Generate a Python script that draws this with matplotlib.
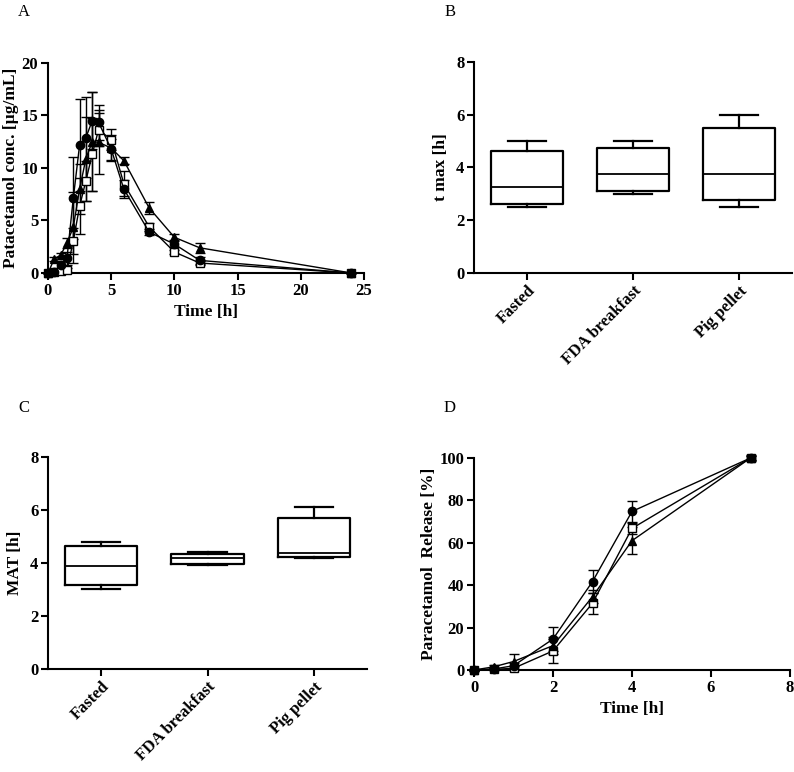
#!/usr/bin/env python3

import matplotlib
matplotlib.use('Agg')
import matplotlib.pyplot as plt

plt.rcParams['font.family'] = ['Liberation Serif', 'DejaVu Serif']
plt.rcParams['font.weight'] = 'bold'
plt.rcParams['axes.labelweight'] = 'bold'

W, H = 794, 772

# Panel A: plasma concentration
PK_TIME = [0, 0.5, 1, 1.5, 2, 2.5, 3, 3.5, 4, 5, 6, 8, 10, 12, 24]
PK_FASTED = [0, 0.1, 0.8, 1.4, 7.1, 12.2, 12.9, 14.5, 14.35, 11.8, 8.0, 3.9, 2.75, 1.2, 0]
PK_FASTED_SD = [0, 0.1, 0.3, 0.6, 3.9, 4.4, 3.9, 2.7, 1.65, 1.0, 0.9, 0.3, 0.3, 0.3, 0]
PK_FDA = [0, 0.05, 0.15, 0.25, 3.05, 6.35, 8.8, 11.3, 13.65, 12.7, 8.5, 4.4, 2.0, 0.95, 0]
PK_FDA_SD = [0, 0.05, 0.1, 0.2, 1.2, 2.65, 1.9, 3.5, 1.6, 1.0, 1.2, 0.4, 0.2, 0.2, 0]
PK_PIG = [0, 1.35, 1.7, 2.85, 4.35, 8.0, 10.9, 12.5, 12.45, 11.9, 10.7, 6.2, 3.4, 2.4, 0]
PK_PIG_SD = [0, 0.2, 0.2, 0.5, 3.4, 2.4, 4.0, 4.7, 3.05, 1.2, 0.3, 0.6, 0.3, 0.5, 0]

GROUPS = ['Fasted', 'FDA breakfast', 'Pig pellet']

# Panel B: t max box plots (whisker low, q1, median, q3, whisker high)
TMAX_LO = [2.5, 3.0, 2.5]
TMAX_Q1 = [2.62, 3.12, 2.75]
TMAX_MED = [3.25, 3.75, 3.75]
TMAX_Q3 = [4.63, 4.75, 5.5]
TMAX_HI = [5.0, 5.0, 6.0]

# Panel C: MAT box plots
MAT_LO = [3.03, 3.91, 4.18]
MAT_Q1 = [3.18, 3.96, 4.21]
MAT_MED = [3.87, 4.18, 4.39]
MAT_Q3 = [4.63, 4.35, 5.71]
MAT_HI = [4.80, 4.40, 6.11]

# Panel D: in vitro release
REL_TIME = [0, 0.5, 1, 2, 3, 4, 7]
REL_FASTED = [0, 0.5, 2.0, 14.6, 41.7, 74.8, 100]
REL_FASTED_SD = [0.5, 0.5, 1.5, 5.5, 5.3, 5.0, 1.0]
REL_FDA = [0, 0.3, 0.8, 9.0, 31.5, 66.8, 100]
REL_FDA_SD = [0.5, 0.5, 1.0, 5.5, 5.0, 2.5, 1.5]
REL_PIG = [0, 1.5, 4.0, 11.5, 34.6, 61.0, 100]
REL_PIG_SD = [0.5, 1.0, 3.4, 4.0, 3.0, 6.5, 1.0]

TICK_FS = 12
LABEL_FS = 12.5


def rect(left, top, right, bottom):
    '''Pixel box -> figure fraction rect'''
    return [left / W, 1 - bottom / H, (right - left) / W, (bottom - top) / H]


def style_axis(ax):
    for side in ('top', 'right'):
        ax.spines[side].set_visible(False)
    for side in ('left', 'bottom'):
        ax.spines[side].set_linewidth(1.5)
    ax.tick_params(direction='out', length=5, width=1.5, labelsize=TICK_FS, pad=2)
    for lab in ax.get_xticklabels() + ax.get_yticklabels():
        lab.set_fontweight('bold')


def curves(ax, x, series):
    for y, err, marker, face in series:
        ax.errorbar(x, y, yerr=err, color='k', lw=1, elinewidth=1,
                    capsize=3.5, capthick=1, marker=marker, ms=6,
                    mfc=face, mec='k', mew=1, clip_on=False, zorder=3)


def boxes(ax, lo, q1, med, q3, hi):
    stats = [dict(whislo=a, q1=b, med=c, q3=d, whishi=e, label=g)
             for a, b, c, d, e, g in zip(lo, q1, med, q3, hi, GROUPS)]
    ax.bxp(stats, positions=[1, 2, 3], widths=0.68, showfliers=False,
           boxprops=dict(lw=1.6, color='k'),
           whiskerprops=dict(lw=1.6, color='k'),
           capprops=dict(lw=1.6, color='k'),
           medianprops=dict(lw=1.3, color='k'),
           capwidths=0.36)
    ax.set_xlim(0.5, 3.5)
    ax.set_ylim(0, 8)
    ax.set_yticks([0, 2, 4, 6, 8])
    ax.set_xticks([1, 2, 3])
    ax.set_xticklabels(GROUPS, rotation=45, ha='right', rotation_mode='anchor',
                       fontsize=LABEL_FS, fontweight='bold')


fig = plt.figure(figsize=(W / 100, H / 100), dpi=100)

# A
ax = fig.add_axes(rect(48, 63, 364, 273))
curves(ax, PK_TIME, [(PK_FDA, PK_FDA_SD, 's', 'white'),
                     (PK_FASTED, PK_FASTED_SD, 'o', 'k'),
                     (PK_PIG, PK_PIG_SD, '^', 'k')])
ax.set_xlim(0, 25)
ax.set_ylim(0, 20)
ax.set_xticks([0, 5, 10, 15, 20, 25])
ax.set_yticks([0, 5, 10, 15, 20])
ax.set_xlabel('Time [h]', fontsize=LABEL_FS, labelpad=4)
ax.set_ylabel('Patacetamol conc. [µg/mL]', fontsize=LABEL_FS, labelpad=2)
style_axis(ax)

# B
ax = fig.add_axes(rect(474, 62, 792, 273))
boxes(ax, TMAX_LO, TMAX_Q1, TMAX_MED, TMAX_Q3, TMAX_HI)
ax.set_ylabel('t max [h]', fontsize=LABEL_FS, labelpad=5)
style_axis(ax)

# C
ax = fig.add_axes(rect(48, 457, 367, 669))
boxes(ax, MAT_LO, MAT_Q1, MAT_MED, MAT_Q3, MAT_HI)
ax.set_ylabel('MAT [h]', fontsize=LABEL_FS, labelpad=5)
style_axis(ax)

# D
ax = fig.add_axes(rect(474, 458, 790, 670))
curves(ax, REL_TIME, [(REL_FDA, REL_FDA_SD, 's', 'white'),
                      (REL_FASTED, REL_FASTED_SD, 'o', 'k'),
                      (REL_PIG, REL_PIG_SD, '^', 'k')])
ax.set_xlim(0, 8)
ax.set_ylim(0, 100)
ax.set_xticks([0, 2, 4, 6, 8])
ax.set_yticks([0, 20, 40, 60, 80, 100])
ax.set_xlabel('Time [h]', fontsize=LABEL_FS, labelpad=4)
ax.set_ylabel('Paracetamol  Release [%]', fontsize=LABEL_FS, labelpad=2)
style_axis(ax)

for letter, px, py in [('A', 24, 12), ('B', 450, 12), ('C', 24, 408), ('D', 450, 408)]:
    fig.text(px / W, 1 - py / H, letter, fontsize=12, fontweight='normal',
             ha='center', va='center')

fig.savefig('out.png', dpi=100)
